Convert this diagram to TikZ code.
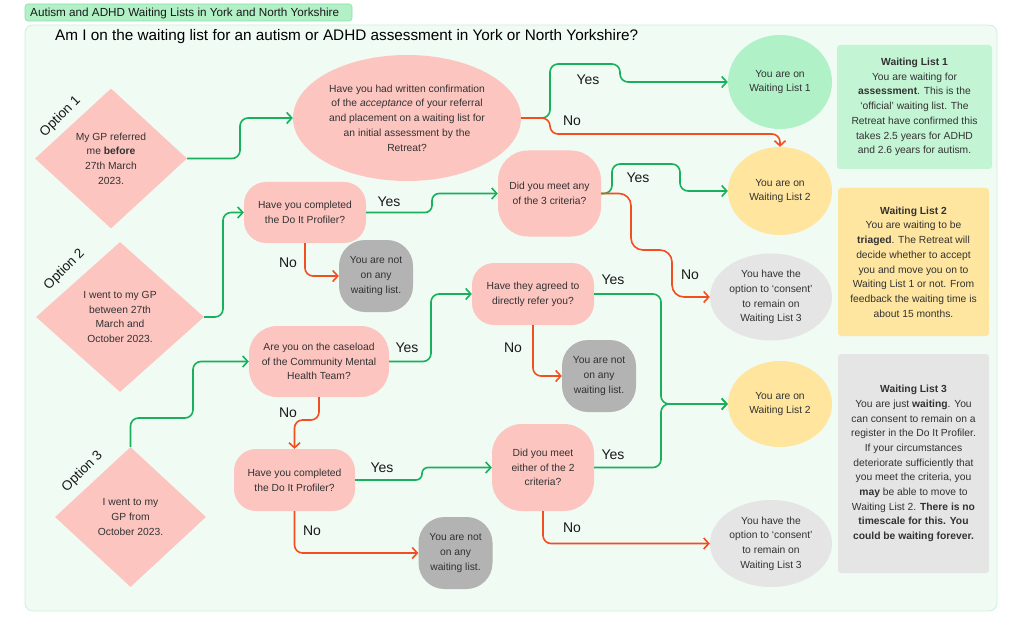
\documentclass[tikz,border=0pt]{standalone}
\usepackage{fontspec}
\setmainfont{Liberation Sans}
\usetikzlibrary{shapes.geometric,arrows.meta}
\definecolor{pinkc}{RGB}{253,197,192}
\definecolor{wlgreen}{RGB}{176,241,200}
\definecolor{wlyellow}{RGB}{255,229,158}
\definecolor{lgray}{RGB}{229,229,229}
\definecolor{dgray}{RGB}{179,179,179}
\definecolor{infogreen}{RGB}{195,244,212}
\definecolor{infoyellow}{RGB}{255,230,160}
\definecolor{panelf}{RGB}{240,251,244}
\definecolor{panelb}{RGB}{204,242,218}
\definecolor{tagf}{RGB}{178,240,198}
\definecolor{tagb}{RGB}{140,222,170}
\definecolor{gcol}{RGB}{24,176,90}
\definecolor{rcol}{RGB}{243,78,32}
\definecolor{txtc}{RGB}{50,50,50}
\definecolor{labc}{RGB}{25,25,25}
\begin{document}
\begin{tikzpicture}[x=1pt,y=-1pt,
  txt/.style={font=\fontsize{10.3}{14.7}\selectfont, text=txtc, align=center, inner sep=0pt},
  pinkbox/.style={txt, rectangle, fill=pinkc},
  notbox/.style={txt, rectangle, fill=dgray, rounded corners=26, minimum width=74, minimum height=72},
  ell/.style={txt, ellipse},
  dia/.style={txt, diamond, fill=pinkc},
  info/.style={txt, rectangle, rounded corners=3},
  lab/.style={font=\fontsize{14}{14}\selectfont, text=labc, inner sep=0pt},
  opt/.style={font=\fontsize{13.5}{13.5}\selectfont, text=labc, rotate=45, inner sep=0pt},
  gline/.style={draw=gcol, line width=1.6pt, rounded corners=8, -{Straight Barb[length=5pt,width=11pt]}},
  rline/.style={draw=rcol, line width=1.6pt, rounded corners=8, -{Straight Barb[length=5pt,width=11pt]}}
]
\useasboundingbox[fill=white] (0,0) rectangle (1024,636);
% tag and panel
\draw[draw=tagb, fill=tagf, rounded corners=3, line width=0.6pt] (25,4) rectangle (352,21);
\node[anchor=west, font=\fontsize{11.7}{11.7}\selectfont, text=labc, inner sep=0pt] (tag) at (30,13) {Autism and ADHD Waiting Lists in York and North Yorkshire};
\draw[draw=panelb, fill=panelf, rounded corners=8, line width=0.8pt] (25,25) rectangle (997,611);
\node[anchor=west, font=\fontsize{15.3}{15.3}\selectfont, text=black, inner sep=0pt] (title) at (55,37) {Am I on the waiting list for an autism or ADHD assessment in York or North Yorkshire?};

% diamonds
\node[dia, minimum width=152, minimum height=140] (d1) at (111,158.5) {My GP referred\\me \textbf{before}\\27th March\\2023.};
\node[dia, minimum width=168, minimum height=150] (d2) at (120,317) {I went to my GP\\between 27th\\March and\\October 2023.};
\node[dia, minimum width=151, minimum height=140] (d3) at (130.5,517) {I went to my\\GP from\\October 2023.};
\node[opt] (o1) at (60.5,116.5) {Option 1};
\node[opt] (o2) at (64.5,269.5) {Option 2};
\node[opt] (o3) at (82.5,471.5) {Option 3};

% questions
\node[ell, fill=pinkc, minimum width=228, minimum height=126] (q1) at (407,118) {Have you had written confirmation\\of the \textit{acceptance} of your referral\\and placement on a waiting list for\\an initial assessment by the\\Retreat?};
\node[pinkbox, rounded corners=22, minimum width=122, minimum height=61] (q2) at (305,212.5) {Have you completed\\the Do It Profiler?};
\node[pinkbox, rounded corners=30, minimum width=103, minimum height=86] (q3) at (549.5,193.5) {Did you meet any\\of the 3 criteria?};
\node[pinkbox, rounded corners=28, minimum width=140, minimum height=71] (q4) at (319,361.5) {Are you on the caseload\\of the Community Mental\\Health Team?};
\node[pinkbox, rounded corners=22, minimum width=122, minimum height=62] (q5) at (533,294) {Have they agreed to\\directly refer you?};
\node[pinkbox, rounded corners=22, minimum width=121, minimum height=62] (q6) at (294.5,480) {Have you completed\\the Do It Profiler?};
\node[pinkbox, rounded corners=30, minimum width=102, minimum height=87] (q7) at (543,467.5) {Did you meet\\either of the 2\\criteria?};

% outcomes
\node[notbox] (na1) at (376,276) {You are not\\on any\\waiting list.};
\node[notbox] (na2) at (599,376) {You are not\\on any\\waiting list.};
\node[notbox] (na3) at (455.5,553) {You are not\\on any\\waiting list.};
\node[ell, fill=wlgreen, minimum width=104, minimum height=94] (wl1) at (780,82) {You are on\\Waiting List 1};
\node[ell, fill=wlyellow, minimum width=104, minimum height=88] (wl2a) at (780,191) {You are on\\Waiting List 2};
\node[ell, fill=wlyellow, minimum width=104, minimum height=86] (wl2b) at (780,404) {You are on\\Waiting List 2};
\node[ell, fill=lgray, minimum width=122, minimum height=87] (wl3a) at (771,297) {You have the\\option to ‘consent’\\to remain on\\Waiting List 3};
\node[ell, fill=lgray, minimum width=122, minimum height=87] (wl3b) at (771,543.5) {You have the\\option to ‘consent’\\to remain on\\Waiting List 3};

% info boxes
\node[info, fill=infogreen, minimum width=155, minimum height=124] (i1) at (914.5,107) {\textbf{Waiting List 1}\\You are waiting for\\\textbf{assessment}. This is the\\‘official’ waiting list. The\\Retreat have confirmed this\\takes 2.5 years for ADHD\\and 2.6 years for autism.};
\node[info, fill=infoyellow, minimum width=151, minimum height=148] (i2) at (913.5,262) {\textbf{Waiting List 2}\\You are waiting to be\\\textbf{triaged}. The Retreat will\\decide whether to accept\\you and move you on to\\Waiting List 1 or not. From\\feedback the waiting time is\\about 15 months.};
\node[info, fill=lgray, minimum width=151, minimum height=219] (i3) at (913.5,463.5) {\textbf{Waiting List 3}\\You are just \textbf{waiting}. You\\can consent to remain on a\\register in the Do It Profiler.\\If your circumstances\\deteriorate sufficiently that\\you meet the criteria, you\\\textbf{may} be able to move to\\Waiting List 2. \textbf{There is no}\\\textbf{timescale for this. You}\\\textbf{could be waiting forever.}};

% connectors
\draw[gline] (d1.east) -| (240,0 |- q1.west) -- (q1.west);
\draw[gline] (q1.east) -| (550,64) -| (620,0 |- wl1.west) -- (wl1.west);
\draw[rline] (q1.east) -| (550,134) -| (wl2a.north);
\draw[gline] (d2.east) -| (223,0 |- q2.west) -- (q2.west);
\draw[gline, rounded corners=7] (q2.east) -| (432,0 |- q3.west) -- (q3.west);
\draw[rline] (q2.south) |- (na1.west);
\draw[gline] (q3.east) -| (612,164) -| (680,0 |- wl2a.west) -- (wl2a.west);
\draw[rline, rounded corners=12] (q3.east) -| (631,250) -| (672,0 |- wl3a.west) -- (wl3a.west);
\draw[gline] (d3.north) |- (193,418) |- (q4.west);
\draw[gline] (q4.east) -| (431,0 |- q5.west) -- (q5.west);
\draw[rline] (q4.south) |- (294.5,420) -- (q6.north);
\draw[gline] (q5.east) -| (661,0 |- wl2b.west) -- (wl2b.west);
\draw[rline] (q5.south) |- (na2.west);
\draw[gline, rounded corners=6] (q6.east) -| (422,0 |- q7.west) -- (q7.west);
\draw[rline] (q6.south) |- (na3.west);
\draw[gline] (q7.east) -| (661,0 |- wl2b.west) -- (wl2b.west);
\draw[rline] (q7.south) |- (wl3b.west);

% labels
\node[lab] (l1) at (588,80) {Yes};
\node[lab] (l2) at (572,121) {No};
\node[lab] (l3) at (389,202) {Yes};
\node[lab] (l4) at (288,263) {No};
\node[lab] (l5) at (638,178) {Yes};
\node[lab] (l6) at (690,275) {No};
\node[lab] (l7) at (407,348) {Yes};
\node[lab] (l8) at (288,413) {No};
\node[lab] (l9) at (613,280) {Yes};
\node[lab] (l10) at (513,348) {No};
\node[lab] (l11) at (382,468) {Yes};
\node[lab] (l12) at (312,531) {No};
\node[lab] (l13) at (613,455) {Yes};
\node[lab] (l14) at (572,528) {No};
\end{tikzpicture}
\end{document}
